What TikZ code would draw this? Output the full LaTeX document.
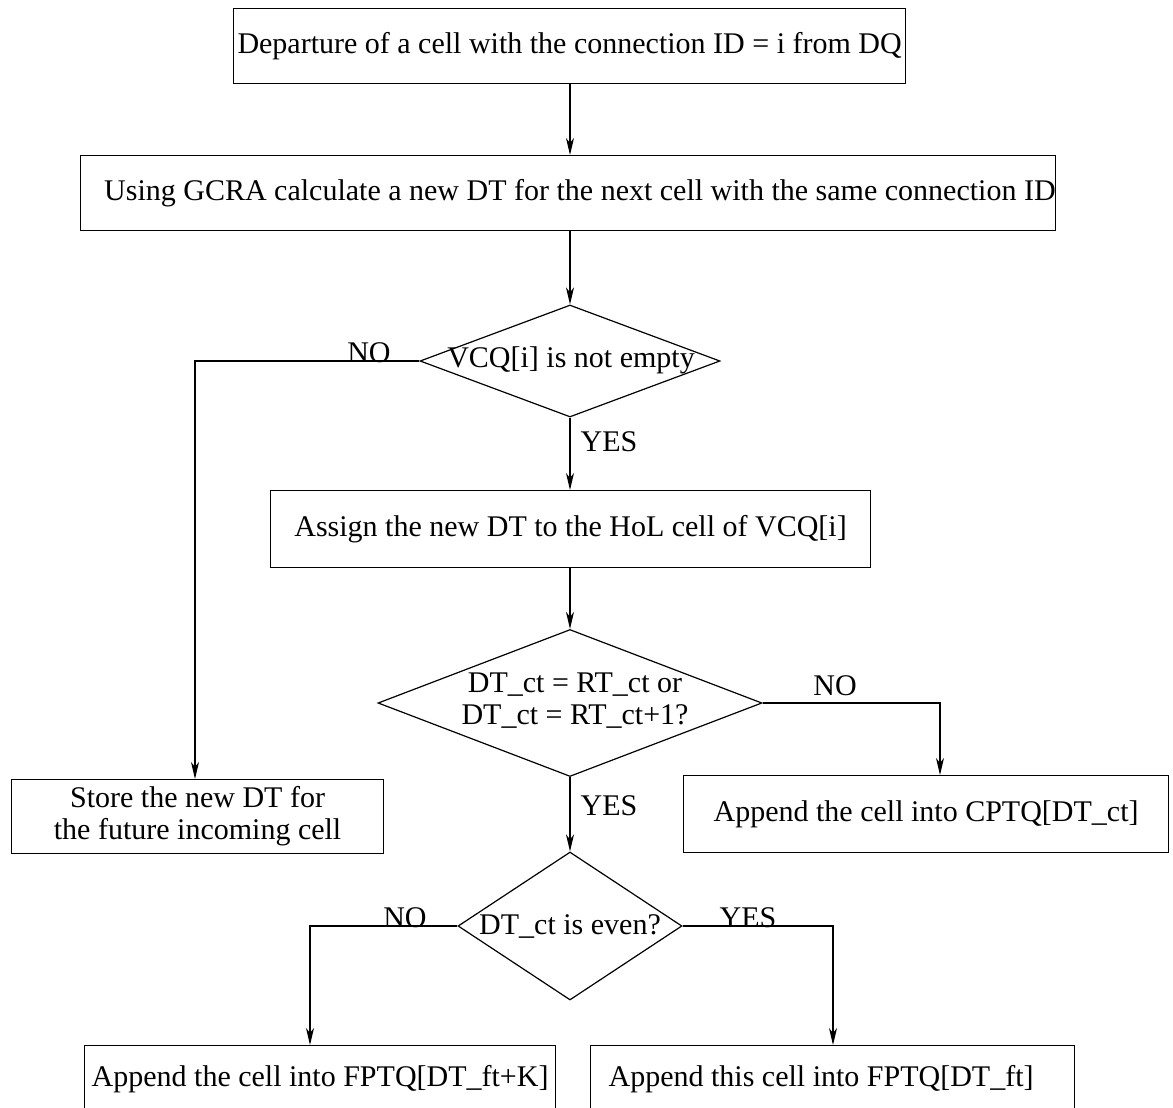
\documentclass[tikz,border=0pt]{standalone}
\usepackage{fontspec}
\setmainfont{Liberation Serif}
\usetikzlibrary{shapes.geometric,arrows.meta}
\begin{document}
\begin{tikzpicture}[x=1pt,y=-1pt,
  line width=1.2pt,
  every node/.style={font=\fontsize{30}{32}\selectfont},
  box/.style={draw, rectangle, anchor=north west, inner ysep=0pt, inner xsep=0pt, align=flush center},
  decision/.style={draw, diamond, inner sep=0pt},
  flow/.style={-{Stealth[length=17pt,width=8pt,inset=5pt]}},
  lbl/.style={inner sep=0pt}]
\useasboundingbox (0,0) rectangle (1173,1108);
\clip (0,0) rectangle (1173,1108);

% process boxes
\node[box, minimum width=672, minimum height=75, text width=672] (dep) at (233,8)
  {Departure of a cell with the connection ID = i from DQ};
\node[box, minimum width=975, minimum height=75, text width=975, align=flush right] (gcra) at (80,155)
  {Using GCRA calculate a new DT for the next cell with the same connection ID};
\node[box, minimum width=600, minimum height=77, text width=600] (assign) at (270,490)
  {Assign the new DT to the HoL cell of VCQ[i]};
\node[box, minimum width=372, minimum height=74, text width=372] (store) at (11,779)
  {Store the new DT for\\the future incoming cell};
\node[box, minimum width=485, minimum height=77, text width=485] (cptq) at (683,775)
  {Append the cell into CPTQ[DT\_ct]};
\node[box, minimum width=471, minimum height=68, text width=471] (fptqk) at (84,1045)
  {Append the cell into FPTQ[DT\_ft+K]};
\node[box, minimum width=484, minimum height=68, text width=448, inner xsep=18pt, align=flush left] (fptq) at (590,1045)
  {Append this cell into FPTQ[DT\_ft]};

% decisions
\node[decision, minimum width=300, minimum height=112] (vcq) at (570,361) {};
\node[lbl] (vcqt) at (571,360) {VCQ[i] is not empty};
\node[decision, minimum width=384, minimum height=147] (ct) at (570,703) {};
\node[lbl, align=center] (ctt) at (575,701) {DT\_ct = RT\_ct or\\DT\_ct = RT\_ct+1?};
\node[decision, minimum width=224, minimum height=148] (even) at (570,926) {};
\node[lbl] (event) at (570,926) {DT\_ct is even?};

% connectors
\draw[flow] (dep.south -| vcq.north) -- (gcra.north -| vcq.north);
\draw[flow] (gcra.south -| vcq.north) -- (vcq.north);
\draw[flow] (vcq.south) -- (assign.north -| vcq.south);
\draw[flow] (assign.south -| ct.north) -- (ct.north);
\draw[flow] (ct.south) -- (even.north);

\coordinate (nvcq) at (195,361);
\draw[flow] (vcq.west) -- (nvcq) -- (nvcq |- store.north);
\coordinate (nct) at (940,703);
\draw[flow] (ct.east) -- (nct) -- (nct |- cptq.north);
\coordinate (neven) at (310,926);
\draw[flow] (even.west) -- (neven) -- (neven |- fptqk.north);
\coordinate (yeven) at (833,926);
\draw[flow] (even.east) -- (yeven) -- (yeven |- fptq.north);

% branch labels
\node[lbl, anchor=south] (l1) at (369,363) {NO};
\node[lbl, anchor=west] (l2) at (580,442) {YES};
\node[lbl, anchor=south] (l3) at (835,696) {NO};
\node[lbl, anchor=west] (l4) at (580,806) {YES};
\node[lbl, anchor=south] (l5) at (405,928) {NO};
\node[lbl, anchor=south] (l6) at (748,928) {YES};
\end{tikzpicture}
\end{document}
